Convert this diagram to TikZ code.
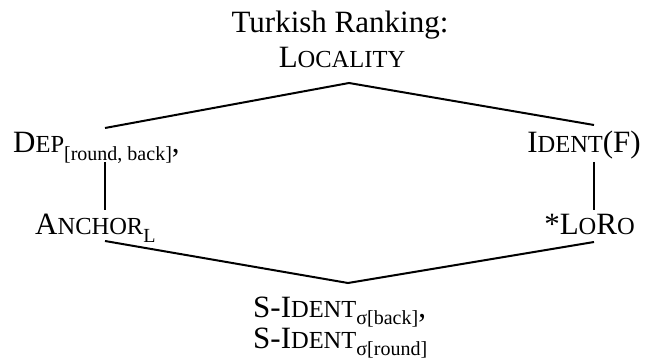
\documentclass[tikz,border=0pt]{standalone}
\usepackage{fontspec}
\setmainfont{Liberation Serif}
\newcommand\smc[1]{{\fontsize{24.5}{24.5}\selectfont #1}}
\newcommand\subs[1]{\raisebox{-0.25em}{\fontsize{20}{20}\selectfont #1}}
\begin{document}
\begin{tikzpicture}[x=1pt,y=-1pt,
  lbl/.style={inner sep=0pt,font=\fontsize{31}{31}\selectfont},
  conn/.style={line width=2pt,line cap=butt}]
\useasboundingbox (0,0) rectangle (645,363);
\node[lbl,anchor=base] (title) at (340,33) {Turkish Ranking:};
\node[lbl,anchor=base] (loc) at (342,68) {L\smc{OCALITY}};
\node[lbl,anchor=base west] (dep) at (13,153) {D\smc{EP}\subs{[round, back]},};
\node[lbl,anchor=base west] (anc) at (35,235) {A\smc{NCHOR}\subs{L}};
\node[lbl,anchor=base east] (ident) at (641,153) {I\smc{DENT}(F)};
\node[lbl,anchor=base east] (loro) at (635,235) {*L\smc{O}R\smc{O}};
\node[lbl,anchor=base west] (s1) at (253,317) {S-I\smc{DENT}\subs{σ[back]},};
\node[lbl,anchor=base west] (s2) at (253,348) {S-I\smc{DENT}\subs{σ[round]}};
\coordinate (top) at (349,83);
\coordinate (tl) at (105,128);
\coordinate (tr) at (594,125);
\coordinate (ml1) at (105,162);
\coordinate (ml2) at (105,210);
\coordinate (mr1) at (594,162);
\coordinate (mr2) at (594,210);
\coordinate (bl) at (105,241);
\coordinate (br) at (594,242);
\coordinate (bot) at (348,283);
\draw[conn] (tl) -- (top) -- (tr);
\draw[conn] (ml1) -- (ml2);
\draw[conn] (mr1) -- (mr2);
\draw[conn] (bl) -- (bot) -- (br);
\end{tikzpicture}
\end{document}
